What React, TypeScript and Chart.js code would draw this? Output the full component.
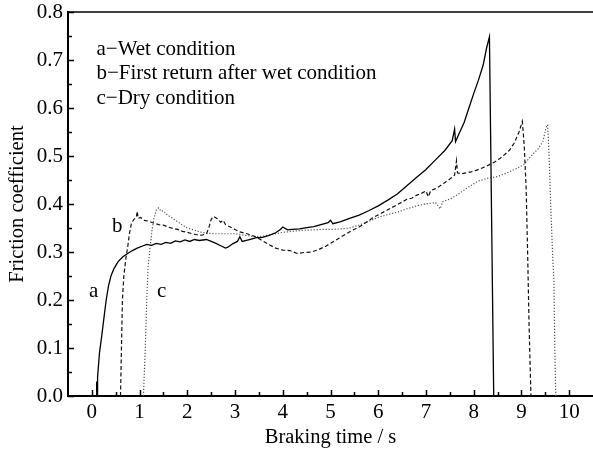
import React, { useEffect, useRef } from "react";
import { Chart, registerables } from "chart.js";

Chart.register(...registerables);

const FONT = '"Liberation Serif", "Times New Roman", serif';

const xTicks = [0, 1, 2, 3, 4, 5, 6, 7, 8, 9, 10];
const yTicks = [0, 0.1, 0.2, 0.3, 0.4, 0.5, 0.6, 0.7, 0.8];

const legendLines = [
  "a\u2212Wet condition",
  "b\u2212First return after wet condition",
  "c\u2212Dry condition",
];

const curveLabels = [
  { text: "a", x: 0.04, y: 0.206 },
  { text: "b", x: 0.53, y: 0.342 },
  { text: "c", x: 1.46, y: 0.206 },
];

// a - Wet condition (solid)
const wetTime = [
  0.09, 0.1, 0.11, 0.12, 0.16, 0.2, 0.25, 0.3, 0.35, 0.4, 0.46, 0.55, 0.65, 0.75, 0.85, 0.95,
  1.05, 1.15, 1.25, 1.35, 1.45, 1.55, 1.65, 1.75, 1.85, 1.95, 2.05, 2.15, 2.25, 2.4, 2.5, 2.6,
  2.7, 2.8, 2.85, 2.95, 3.05, 3.1, 3.15, 3.3, 3.45, 3.55, 3.7, 3.85, 3.95, 4.0, 4.1, 4.2, 4.35,
  4.5, 4.65, 4.8, 4.95, 5.0, 5.05, 5.2, 5.4, 5.6, 5.8, 6.0, 6.2, 6.4, 6.6, 6.8, 7.0, 7.2, 7.4,
  7.55, 7.6, 7.62, 7.7, 7.8, 7.9, 8.0, 8.1, 8.2, 8.27, 8.33, 8.42,
];
const wetMu = [
  0, 0.03, 0, 0.04, 0.09, 0.12, 0.16, 0.2, 0.23, 0.25, 0.265, 0.28, 0.29, 0.297, 0.303, 0.308,
  0.312, 0.316, 0.314, 0.318, 0.316, 0.32, 0.318, 0.323, 0.321, 0.325, 0.322, 0.326, 0.324, 0.326, 0.322, 0.318,
  0.313, 0.308, 0.31, 0.317, 0.322, 0.332, 0.322, 0.326, 0.33, 0.33, 0.334, 0.34, 0.347, 0.352, 0.346, 0.347, 0.348,
  0.351, 0.353, 0.357, 0.361, 0.366, 0.359, 0.363, 0.37, 0.377, 0.386, 0.396, 0.408, 0.421, 0.438, 0.455, 0.472, 0.492, 0.512,
  0.532, 0.556, 0.53, 0.548, 0.57, 0.6, 0.63, 0.658, 0.69, 0.725, 0.748, 0,
];

// b - First return after wet condition (dashed)
const returnTime = [
  0.6, 0.62, 0.64, 0.67, 0.71, 0.75, 0.79, 0.83, 0.88, 0.93, 0.95, 0.97, 1.02, 1.1, 1.2, 1.3,
  1.4, 1.5, 1.6, 1.7, 1.8, 1.9, 2.0, 2.1, 2.2, 2.3, 2.4, 2.45, 2.5, 2.55, 2.62, 2.7, 2.75, 2.8,
  2.9, 3.0, 3.1, 3.25, 3.4, 3.55, 3.7, 3.85, 4.0, 4.15, 4.3, 4.45, 4.6, 4.75, 4.9, 5.0, 5.15,
  5.3, 5.45, 5.6, 5.75, 5.9, 6.05, 6.2, 6.35, 6.5, 6.6, 6.7, 6.8, 6.9, 7.0, 7.05, 7.1, 7.2, 7.3,
  7.4, 7.5, 7.6, 7.64, 7.66, 7.75, 7.85, 7.95, 8.05, 8.15, 8.25, 8.35, 8.45, 8.55, 8.65, 8.75,
  8.85, 8.95, 9.02, 9.06, 9.1, 9.13, 9.16, 9.2,
];
const returnMu = [
  0, 0.1, 0.2, 0.25, 0.285, 0.31, 0.34, 0.36, 0.368, 0.372, 0.385, 0.37, 0.372, 0.366, 0.364, 0.36,
  0.357, 0.356, 0.352, 0.349, 0.347, 0.343, 0.341, 0.338, 0.336, 0.335, 0.338, 0.35, 0.368, 0.374, 0.37, 0.362, 0.366, 0.357,
  0.352, 0.347, 0.342, 0.338, 0.333, 0.325, 0.316, 0.308, 0.304, 0.303, 0.297, 0.299, 0.3, 0.305, 0.312, 0.318, 0.327,
  0.336, 0.345, 0.352, 0.362, 0.372, 0.38, 0.388, 0.396, 0.404, 0.41, 0.412, 0.418, 0.422, 0.427, 0.415, 0.428, 0.432, 0.438,
  0.445, 0.452, 0.46, 0.49, 0.465, 0.463, 0.465, 0.467, 0.47, 0.474, 0.478, 0.483, 0.488, 0.495, 0.503, 0.512,
  0.527, 0.55, 0.572, 0.52, 0.43, 0.3, 0.15, 0,
];

// c - Dry condition (dotted)
const dryTime = [
  1.08, 1.12, 1.15, 1.18, 1.22, 1.26, 1.3, 1.35, 1.4, 1.45, 1.5, 1.55, 1.6, 1.7, 1.8, 1.9, 2.0,
  2.1, 2.2, 2.3, 2.4, 2.6, 2.8, 3.0, 3.2, 3.4, 3.6, 3.8, 4.0, 4.2, 4.4, 4.6, 4.8, 5.0, 5.2, 5.4,
  5.6, 5.8, 6.0, 6.2, 6.4, 6.6, 6.8, 7.0, 7.2, 7.3, 7.35, 7.5, 7.7, 7.9, 8.1, 8.3, 8.5, 8.7, 8.9,
  9.05, 9.15, 9.25, 9.35, 9.45, 9.52, 9.55, 9.58, 9.62, 9.66, 9.68, 9.7, 9.72,
];
const dryMu = [
  0, 0.1, 0.2, 0.27, 0.31, 0.345, 0.37, 0.388, 0.392, 0.385, 0.386, 0.38, 0.376, 0.37, 0.363, 0.356, 0.35,
  0.347, 0.344, 0.341, 0.339, 0.338, 0.338, 0.338, 0.335, 0.332, 0.333, 0.337, 0.341, 0.343, 0.345, 0.346, 0.347, 0.347, 0.348, 0.35,
  0.356, 0.364, 0.372, 0.378, 0.383, 0.39, 0.396, 0.4, 0.403, 0.39, 0.405, 0.41, 0.422, 0.436, 0.448, 0.454, 0.457, 0.465, 0.474,
  0.482, 0.494, 0.505, 0.515, 0.53, 0.56, 0.565, 0.5, 0.38, 0.28, 0.245, 0.1, 0,
];

const toPoints = (xs: number[], ys: number[]) => xs.map((x, i) => ({ x, y: ys[i] }));

const decorPlugin = {
  id: "decor",
  afterDraw(chart: any) {
    const { ctx, chartArea, scales } = chart;
    const xs = scales.x;
    const ys = scales.y;
    ctx.save();
    ctx.strokeStyle = "#000";
    ctx.lineWidth = 1.5;
    ctx.beginPath();
    ctx.moveTo(chartArea.left, chartArea.top);
    ctx.lineTo(chartArea.right, chartArea.top);
    ctx.stroke();
    ctx.lineWidth = 1.5;
    for (let v = 0; v <= 10.001; v += 0.5) {
      const px = Math.round(xs.getPixelForValue(v)) + 0.5;
      const major = Math.abs(v - Math.round(v)) < 1e-6;
      const len = major ? 6 : 4;
      ctx.beginPath();
      ctx.moveTo(px, chartArea.bottom);
      ctx.lineTo(px, chartArea.bottom - len);
      ctx.stroke();
    }
    for (let i = 0; i <= 16; i++) {
      const v = i * 0.05;
      const py = Math.round(ys.getPixelForValue(v)) + 0.5;
      const len = i % 2 === 0 ? 6 : 4;
      ctx.beginPath();
      ctx.moveTo(chartArea.left, py);
      ctx.lineTo(chartArea.left + len, py);
      ctx.stroke();
    }
    ctx.fillStyle = "#000";
    ctx.font = `21px ${FONT}`;
    ctx.textAlign = "left";
    ctx.textBaseline = "alphabetic";
    legendLines.forEach((t, i) => {
      ctx.fillText(t, chartArea.left + 28.5, chartArea.top + 43 + i * 24.3);
    });
    ctx.textAlign = "center";
    curveLabels.forEach((l) => {
      ctx.fillText(l.text, xs.getPixelForValue(l.x), ys.getPixelForValue(l.y));
    });
    ctx.restore();
  },
};

export default function App() {
  const ref = useRef<HTMLCanvasElement | null>(null);
  useEffect(() => {
    if (!ref.current) return;
    const chart = new Chart(ref.current, {
      type: "line",
      data: {
        datasets: [
          {
            label: "a",
            data: toPoints(wetTime, wetMu),
            borderColor: "#000",
            borderWidth: 1.3,
            pointRadius: 0,
            tension: 0,
          },
          {
            label: "b",
            data: toPoints(returnTime, returnMu),
            borderColor: "#111",
            borderWidth: 1.2,
            borderDash: [4, 2.5],
            pointRadius: 0,
            tension: 0,
          },
          {
            label: "c",
            data: toPoints(dryTime, dryMu),
            borderColor: "#555",
            borderWidth: 1.2,
            borderDash: [1.2, 1.8],
            pointRadius: 0,
            tension: 0,
          },
        ],
      },
      options: {
        animation: false,
        responsive: false,
        maintainAspectRatio: false,
        parsing: false as any,
        layout: { padding: { top: 12, right: 0, left: 0, bottom: 0 } },
        plugins: { legend: { display: false }, tooltip: { enabled: false } },
        scales: {
          x: {
            type: "linear",
            min: -0.5,
            max: 10.5,
            afterBuildTicks: (s: any) => {
              s.ticks = xTicks.map((v) => ({ value: v }));
            },
            afterFit: (s: any) => {
              s.height = 57;
            },
            grid: { display: false, drawTicks: false },
            border: { display: true, color: "#000", width: 2 },
            ticks: {
              color: "#000",
              font: { family: FONT, size: 21 },
              padding: 4,
              maxRotation: 0,
              callback: (v: any) => String(v),
            },
            title: {
              display: true,
              text: "Braking time / s",
              color: "#000",
              font: { family: FONT, size: 20.5 },
              padding: { top: 0, bottom: 3 },
            },
          },
          y: {
            type: "linear",
            min: 0,
            max: 0.8,
            afterBuildTicks: (s: any) => {
              s.ticks = yTicks.map((v) => ({ value: v }));
            },
            afterFit: (s: any) => {
              s.width = 68;
              s.paddingTop = 0;
              s.paddingBottom = 0;
            },
            grid: { display: false, drawTicks: false },
            border: { display: true, color: "#000", width: 2 },
            ticks: {
              color: "#000",
              font: { family: FONT, size: 21, lineHeight: 1 },
              padding: 5,
              callback: (v: any) => Number(v).toFixed(1),
            },
            title: {
              display: true,
              text: "Friction coefficient",
              color: "#000",
              font: { family: FONT, size: 20.5 },
              padding: { top: 5, bottom: 0 },
            },
          },
        },
      },
      plugins: [decorPlugin],
    });
    return () => chart.destroy();
  }, []);
  return (
    <div style={{ position: "absolute", left: 0, top: 0, width: 593, height: 453, background: "#fff" }}>
      <canvas ref={ref} width={593} height={453} style={{ width: 593, height: 453, display: "block" }} />
    </div>
  );
}
